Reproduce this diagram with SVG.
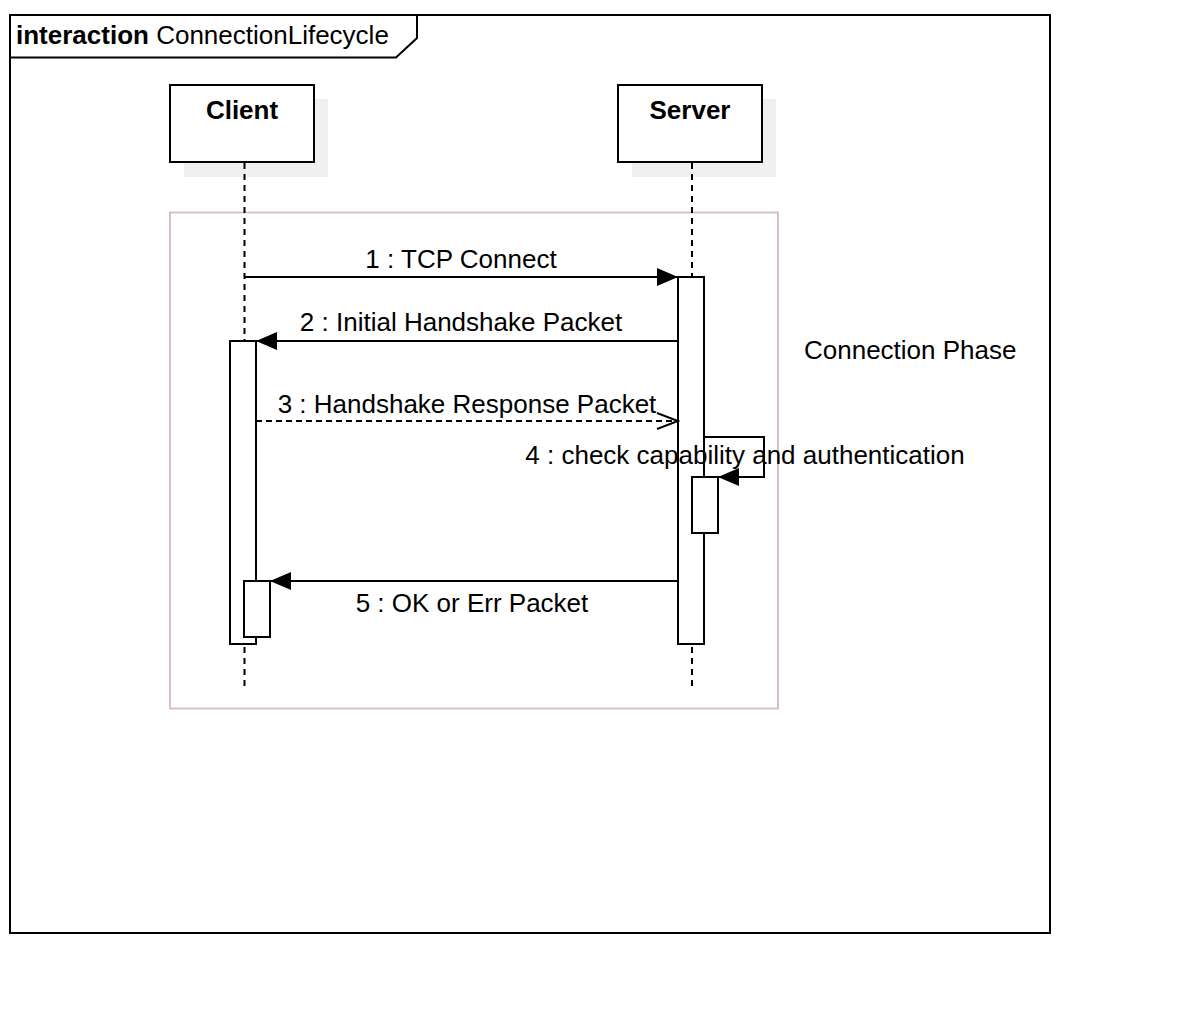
<svg xmlns="http://www.w3.org/2000/svg" width="1204" height="1018" viewBox="0 0 1204 1018">
<style>
text{font-family:"Liberation Sans",Arial,sans-serif;font-size:26px;fill:#000}
.b{font-weight:bold}
.box{fill:#fff;stroke:#000;stroke-width:2}
.shadow{fill:#f0f0f0}
.life{stroke:#000;stroke-width:2;stroke-dasharray:6 5;fill:none}
.act{fill:#fff;stroke:#000;stroke-width:2}
.msg{stroke:#000;stroke-width:2;fill:none}
.dash{stroke-dasharray:6 4}
</style>
<defs>
<marker id="fill" markerWidth="22" markerHeight="18" refX="21" refY="9" orient="auto" markerUnits="userSpaceOnUse">
<path d="M0,0 L21,9 L0,18 Z" fill="#000"/>
</marker>
<marker id="open" markerWidth="24" markerHeight="20" refX="22" refY="10" orient="auto" markerUnits="userSpaceOnUse">
<path d="M1,2 L22,10 L1,18" fill="none" stroke="#000" stroke-width="2"/>
</marker>
</defs>
<rect width="1204" height="1018" fill="#fff"/>
<g id="frame">
<rect x="10" y="15" width="1040" height="918" fill="none" stroke="#000" stroke-width="2"/>
<path d="M10,57.5 L396,57.5 L417,38 L417,15" fill="none" stroke="#000" stroke-width="2"/>
<text x="16" y="44"><tspan class="b">interaction</tspan> ConnectionLifecycle</text>
</g>
<g id="fragment">
<rect x="170" y="212.5" width="608" height="496" fill="none" stroke="#d9bfc3" stroke-width="2"/>
<text x="804" y="359">Connection Phase</text>
</g>
<g id="client">
<rect class="shadow" x="184" y="99" width="144" height="78"/>
<line class="life" x1="244.5" y1="163" x2="244.5" y2="688"/>
<rect class="box" x="170" y="85" width="144" height="77"/>
<text class="b" x="242" y="119" text-anchor="middle">Client</text>
</g>
<g id="server">
<rect class="shadow" x="632" y="99" width="144" height="78"/>
<line class="life" x1="692" y1="163" x2="692" y2="688"/>
<rect class="box" x="618" y="85" width="144" height="77"/>
<text class="b" x="690" y="119" text-anchor="middle">Server</text>
</g>
<g id="activations">
<rect class="act" x="678" y="277" width="26" height="367"/>
<rect class="act" x="230" y="341" width="26" height="303"/>
<rect class="act" x="692" y="477" width="26" height="56"/>
<rect class="act" x="244" y="581" width="26" height="56"/>
</g>
<g id="connectors">
<line class="msg" x1="245" y1="277" x2="678" y2="277" marker-end="url(#fill)"/>
<text x="461" y="268" text-anchor="middle">1 : TCP Connect</text>
<line class="msg" x1="678" y1="341" x2="256" y2="341" marker-end="url(#fill)"/>
<text x="461" y="331" text-anchor="middle">2 : Initial Handshake Packet</text>
<line class="msg dash" x1="256" y1="421" x2="678" y2="421" marker-end="url(#open)"/>
<text x="467" y="413" text-anchor="middle">3 : Handshake Response Packet</text>
<path class="msg" d="M704,437 L764,437 L764,477 L718,477" marker-end="url(#fill)"/>
<text x="745" y="464" text-anchor="middle">4 : check capability and authentication</text>
<line class="msg" x1="678" y1="581" x2="270" y2="581" marker-end="url(#fill)"/>
<text x="472" y="612" text-anchor="middle">5 : OK or Err Packet</text>
</g>
</svg>
